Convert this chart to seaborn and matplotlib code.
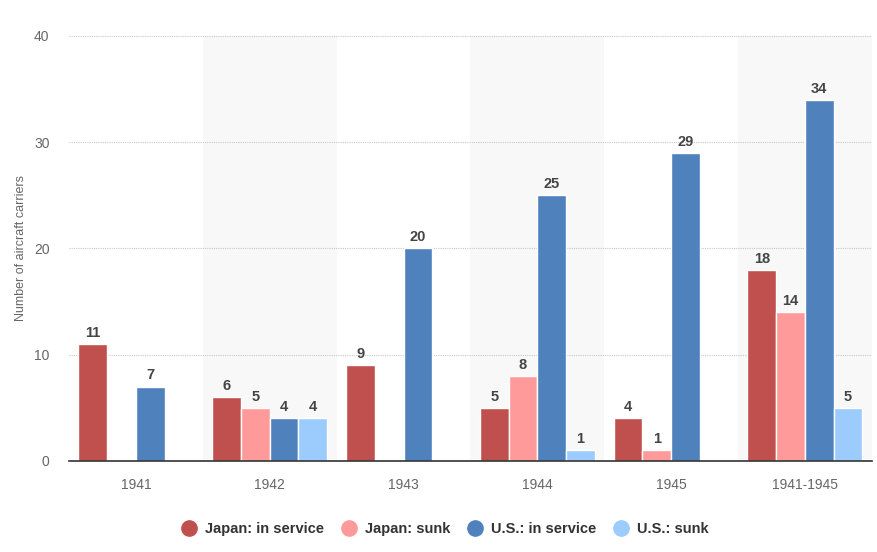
import matplotlib

matplotlib.use("Agg")

import matplotlib.pyplot as plt
import numpy as np
import pandas as pd
import seaborn as sns
from matplotlib.lines import Line2D

years = ["1941", "1942", "1943", "1944", "1945", "1941-1945"]
series = ["Japan: in service", "Japan: sunk", "U.S.: in service", "U.S.: sunk"]
japan_in_service = [11, 6, 9, 5, 4, 18]
japan_sunk = [np.nan, 5, np.nan, 8, 1, 14]
us_in_service = [7, 4, 20, 25, 29, 34]
us_sunk = [np.nan, 4, np.nan, 1, np.nan, 5]
colors = ["#c0504d", "#fe9a9a", "#4f81bd", "#9ccbfd"]

rows = []
for name, values in zip(series, [japan_in_service, japan_sunk, us_in_service, us_sunk]):
    for year, v in zip(years, values):
        rows.append({"year": year, "series": name, "value": v})
df = pd.DataFrame(rows)

sns.set_style("white")
plt.rcParams["font.family"] = ["Liberation Sans", "DejaVu Sans"]

fig = plt.figure(figsize=(8.78, 5.52), dpi=100)
ax = fig.add_axes([0.0786, 0.1649, 0.9144, 0.77])

# alternating background bands
for i in range(len(years)):
    if i % 2 == 1:
        ax.axvspan(i - 0.5, i + 0.5, color="#f8f8f8", zorder=0, lw=0)

sns.barplot(
    data=df, x="year", y="value", hue="series", hue_order=series,
    palette=colors, saturation=1, width=0.86, gap=0.0, ax=ax, legend=False,
    edgecolor="white", linewidth=1, zorder=3,
)

for container in ax.containers:
    labels = ["" if np.isnan(v) else f"{int(v)}" for v in container.datavalues]
    ax.bar_label(container, labels=labels, padding=3, fontsize=10.5,
                 fontweight="bold", color="#444444")

ax.set_xlim(-0.5, len(years) - 0.5)
ax.set_ylim(0, 40)
ax.set_yticks([0, 10, 20, 30, 40])
ax.yaxis.grid(True, linestyle=(0, (1, 1)), color="#c8c8c8", linewidth=0.8)
ax.set_axisbelow(True)
for s in ["top", "right", "left"]:
    ax.spines[s].set_visible(False)
ax.spines["bottom"].set_color("#333333")
ax.spines["bottom"].set_linewidth(1.2)
ax.spines["bottom"].set_zorder(5)
ax.tick_params(axis="both", length=0, labelsize=10, labelcolor="#666666")
ax.tick_params(axis="x", pad=12)
ax.tick_params(axis="y", pad=14)
ax.set_xlabel("")
ax.set_ylabel("Number of aircraft carriers", fontsize=9, color="#666666", labelpad=5)

handles = [Line2D([0], [0], marker="o", linestyle="", markersize=11,
                  markerfacecolor=c, markeredgecolor=c) for c in colors]
leg = fig.legend(handles, series, loc="lower center", bbox_to_anchor=(0.503, 0.005),
                 ncol=4, frameon=False, handletextpad=0.1, columnspacing=0.7,
                 prop={"weight": "bold", "size": 10.5})
for t in leg.get_texts():
    t.set_color("#333333")

fig.savefig("out.png", dpi=100)
